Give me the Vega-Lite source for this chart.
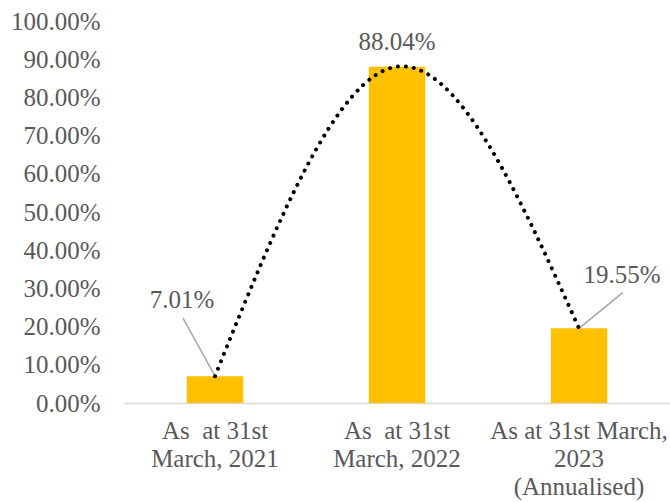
{
  "$schema": "https://vega.github.io/schema/vega-lite/v6.json",
  "width": 546,
  "height": 382,
  "autosize": {"type": "none"},
  "padding": {"left": 124, "top": 21, "right": 0, "bottom": 99},
  "background": "white",
  "config": {
    "view": {"stroke": null},
    "font": "Liberation Serif",
    "text": {"font": "Liberation Serif"}
  },
  "data": {
    "values": [
      {"period": "As\u00a0 at 31st|March, 2021", "value": 0.0701},
      {"period": "As\u00a0 at 31st|March, 2022", "value": 0.8804},
      {"period": "As at 31st March,|2023|(Annualised)", "value": 0.1955}
    ]
  },
  "encoding": {
    "x": {
      "field": "period",
      "type": "nominal",
      "sort": null,
      "scale": {"paddingInner": 0.69, "paddingOuter": 0.345},
      "axis": {
        "title": null,
        "labelAngle": 0,
        "labelExpr": "split(datum.label, '|')",
        "labelFont": "Liberation Serif",
        "labelFontSize": 25,
        "labelLineHeight": 28,
        "labelColor": "#595959",
        "labelPadding": 15,
        "labelOverlap": false,
        "labelBound": false,
        "labelFlush": false,
        "labelLimit": 400,
        "ticks": false,
        "domainColor": "#D9D9D9",
        "domainWidth": 1.5,
        "grid": false
      }
    },
    "y": {
      "field": "value",
      "type": "quantitative",
      "scale": {"domain": [0, 1], "nice": false},
      "axis": {
        "title": null,
        "format": ".2%",
        "values": [0, 0.1, 0.2, 0.3, 0.4, 0.5, 0.6, 0.7, 0.8, 0.9, 1.0],
        "labelFont": "Liberation Serif",
        "labelFontSize": 25,
        "labelColor": "#595959",
        "labelPadding": 24,
        "ticks": false,
        "domain": false,
        "grid": false
      }
    }
  },
  "layer": [
    {"mark": {"type": "bar", "color": "#FFC000"}},
    {
      "transform": [{"filter": "datum.value < 0.1"}],
      "mark": {"type": "rule", "color": "#A6A6A6", "strokeWidth": 1.5, "x2Offset": -32, "y2Offset": -58},
      "encoding": {
        "x2": {"field": "period"},
        "y2": {"field": "value"}
      }
    },
    {
      "transform": [{"filter": "datum.value > 0.15 && datum.value < 0.5"}],
      "mark": {"type": "rule", "color": "#A6A6A6", "strokeWidth": 1.5, "x2Offset": 44, "y2Offset": -36},
      "encoding": {
        "x2": {"field": "period"},
        "y2": {"field": "value"}
      }
    },
    {
      "mark": {"type": "line", "interpolate": "natural", "color": "#000000", "strokeWidth": 4, "strokeCap": "round", "strokeDash": [0.01, 8]}
    },
    {
      "transform": [{"filter": "datum.value < 0.1"}],
      "mark": {"type": "text", "fontSize": 25, "color": "#595959", "dx": -33, "dy": -76, "baseline": "middle", "align": "center"},
      "encoding": {"text": {"field": "value", "type": "quantitative", "format": ".2%"}}
    },
    {
      "transform": [{"filter": "datum.value > 0.5"}],
      "mark": {"type": "text", "fontSize": 25, "color": "#595959", "dx": 0, "dy": -25, "baseline": "middle", "align": "center"},
      "encoding": {"text": {"field": "value", "type": "quantitative", "format": ".2%"}}
    },
    {
      "transform": [{"filter": "datum.value > 0.15 && datum.value < 0.5"}],
      "mark": {"type": "text", "fontSize": 25, "color": "#595959", "dx": 43, "dy": -53, "baseline": "middle", "align": "center"},
      "encoding": {"text": {"field": "value", "type": "quantitative", "format": ".2%"}}
    }
  ]
}
